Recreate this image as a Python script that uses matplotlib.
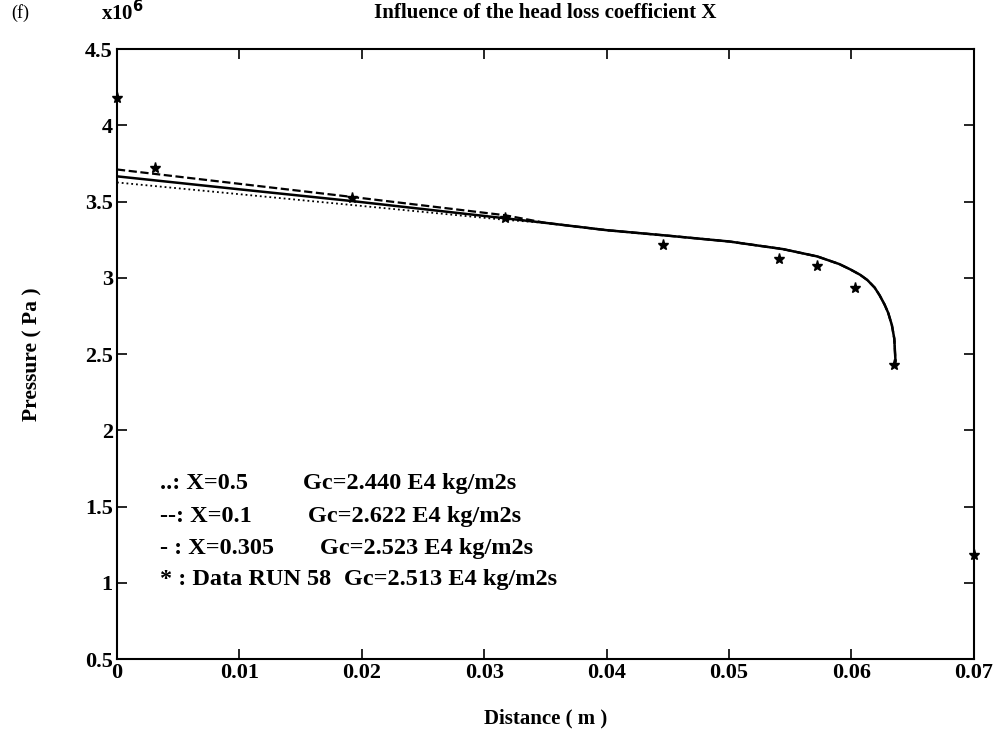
import matplotlib.pyplot as plt

plt.rcParams['font.family'] = ['Liberation Serif', 'DejaVu Serif']

# distances (m) and pressures (x10^6 Pa)
x_head = [0.0, 0.01, 0.0192, 0.0317]
p_dotted_head = [3.625, 3.548, 3.477, 3.38]
p_dashed_head = [3.71, 3.616, 3.53, 3.41]
p_solid_head = [3.665, 3.58, 3.503, 3.39]

# the three curves run together past x ~ 0.035
x_tail = [0.035, 0.04, 0.045, 0.05, 0.0544, 0.0572, 0.059, 0.0599, 0.0607,
          0.0613, 0.0619, 0.0623, 0.0627, 0.063, 0.0633, 0.0635, 0.06355, 0.0636]
p_tail = [3.36, 3.312, 3.276, 3.238, 3.188, 3.14, 3.09, 3.055, 3.02,
          2.985, 2.935, 2.885, 2.825, 2.77, 2.69, 2.60, 2.52, 2.45]

x_data = [0.0, 0.0031, 0.0192, 0.0317, 0.0446, 0.0541, 0.0572, 0.0603, 0.0635, 0.07]
p_data = [4.18, 3.72, 3.52, 3.39, 3.215, 3.125, 3.079, 2.931, 2.428, 1.18]

legend_keys = ["..: X=0.5", "--: X=0.1", "- : X=0.305", "* : Data RUN 58"]
legend_gc = ["Gc=2.440 E4 kg/m2s", "Gc=2.622 E4 kg/m2s",
             "Gc=2.523 E4 kg/m2s", "Gc=2.513 E4 kg/m2s"]
legend_gc_x = [0.217, 0.223, 0.237, 0.265]
legend_y = [0.287, 0.234, 0.182, 0.131]

fig = plt.figure(figsize=(10.04, 7.38), dpi=100)
ax = fig.add_axes([0.1165, 0.107, 0.8535, 0.8266])

ax.plot(x_head + x_tail, p_dotted_head + p_tail, color='black', linestyle=':', linewidth=1.3)
ax.plot(x_head + x_tail, p_dashed_head + p_tail, color='black', linestyle='--', linewidth=1.6)
ax.plot(x_head + x_tail, p_solid_head + p_tail, color='black', linestyle='-', linewidth=1.8)
ax.plot(x_data, p_data, linestyle='none', marker='*', color='black', markersize=8, clip_on=False)

ax.set_xlim(0, 0.07)
ax.set_ylim(0.5, 4.5)
ax.set_xticks([0, 0.01, 0.02, 0.03, 0.04, 0.05, 0.06, 0.07])
ax.set_xticklabels(['0', '0.01', '0.02', '0.03', '0.04', '0.05', '0.06', '0.07'])
ax.set_yticks([0.5, 1, 1.5, 2, 2.5, 3, 3.5, 4, 4.5])
ax.set_yticklabels(['0.5', '1', '1.5', '2', '2.5', '3', '3.5', '4', '4.5'])
ax.tick_params(direction='in', top=True, right=True, length=7, width=1.2,
               labelsize=16, pad=3)
for lab in ax.get_xticklabels() + ax.get_yticklabels():
    lab.set_fontweight('bold')
for sp in ax.spines.values():
    sp.set_linewidth(1.5)

fig.text(0.543, 0.983, "Influence of the head loss coefficient X", ha='center', va='center',
         fontsize=15, fontweight='bold')
fig.text(0.02, 0.983, "(f)", ha='center', va='center', fontsize=13)
fig.text(0.122, 0.983, r"x10$^\mathbf{6}$", ha='center', va='center', fontsize=15, fontweight='bold')
fig.text(0.543, 0.027, "Distance ( m )", ha='center', va='center', fontsize=15, fontweight='bold')
fig.text(0.032, 0.52, "Pressure ( Pa )", ha='center', va='center', rotation=90,
         fontsize=15.5, fontweight='bold')

for k, g, gx, y in zip(legend_keys, legend_gc, legend_gc_x, legend_y):
    ax.text(0.05, y, k, transform=ax.transAxes, fontsize=17.5, fontweight='bold', va='center')
    ax.text(gx, y, g, transform=ax.transAxes, fontsize=17.5, fontweight='bold', va='center')

fig.savefig('out.png', dpi=100)
